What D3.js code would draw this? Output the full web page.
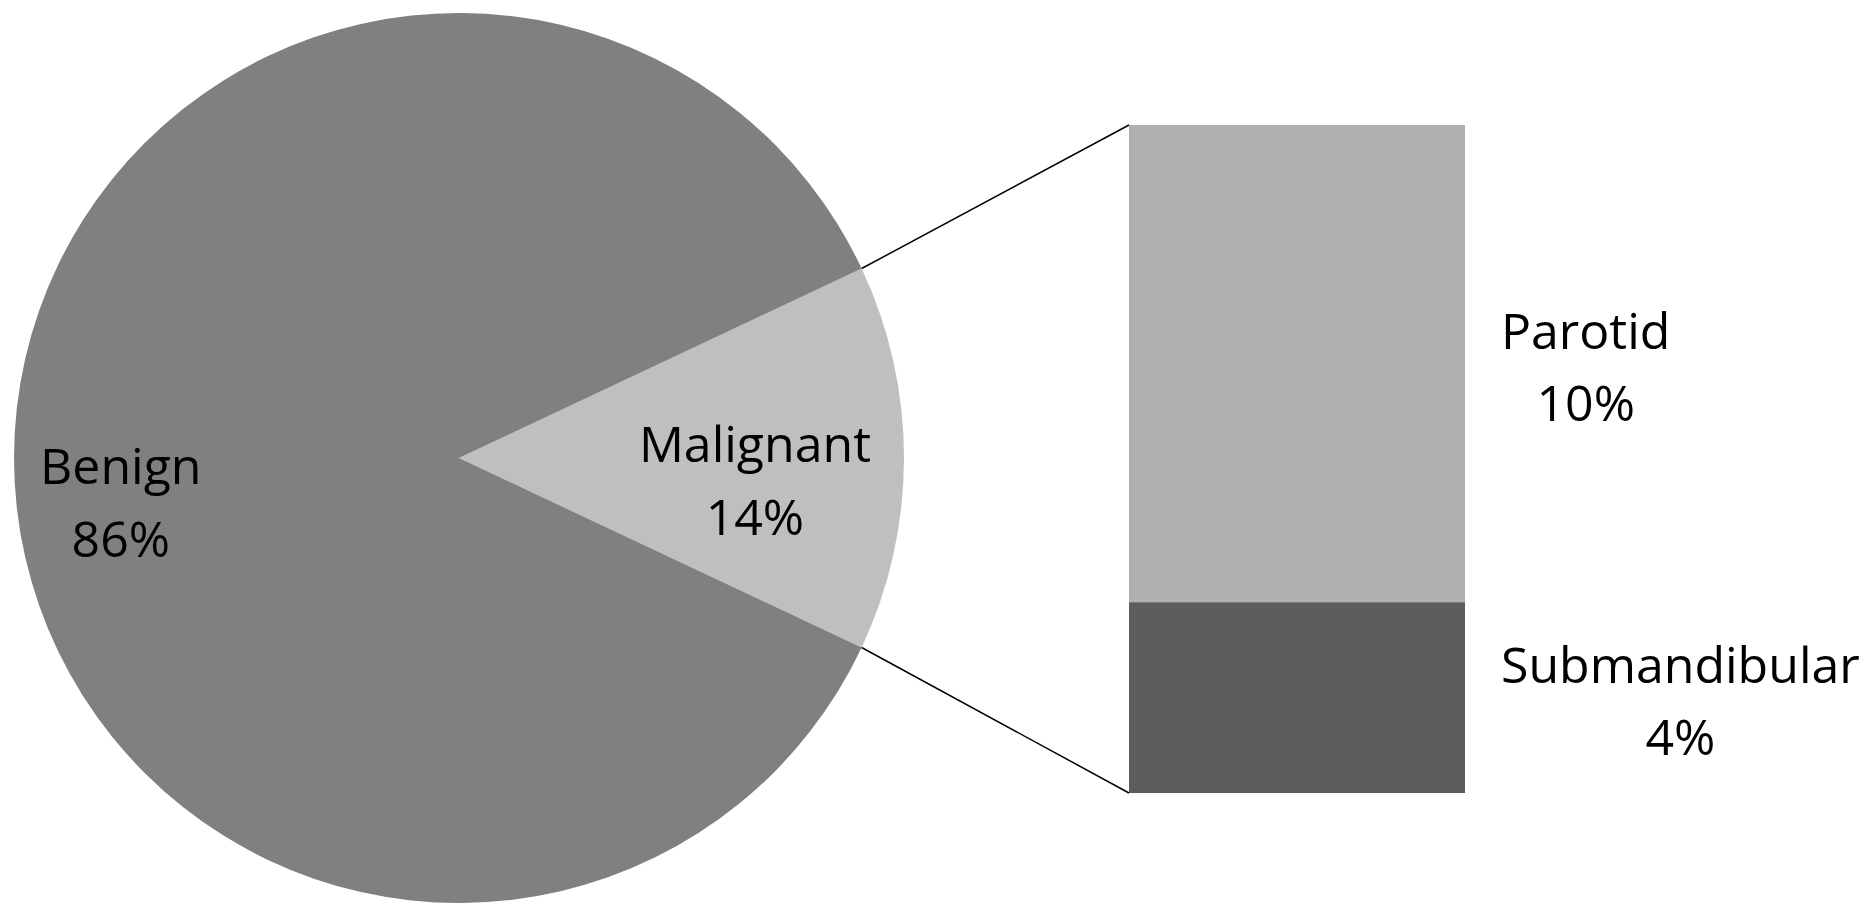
<!DOCTYPE html>
<html>
<head>
<meta charset="utf-8">
<script src="https://cdn.jsdelivr.net/npm/d3@7"></script>
<style>
  body { margin: 0; background: #fff; }
  text { font-family: "Open Sans", Lato, sans-serif; fill: #000; }
</style>
</head>
<body>
<div id="chart"></div>
<script>
// pie: overall share
var pieNames = ["Malignant", "Benign"];
var pieValues = [14, 86];
var pieColors = ["#bfbfbf", "#808080"];

// bar: breakdown of malignant
var barNames = ["Submandibular", "Parotid"];
var barValues = [4, 10];
var barColors = ["#5d5d5d", "#b0b0b0"];

var width = 1876,
    height = 905;

var svg = d3.select("#chart")
  .append("svg")
    .attr("width", width)
    .attr("height", height);

var cx = 459, cy = 458, radius = 445;

// malignant slice centred on the right side
var total = d3.sum(pieValues);
var offset = Math.PI / 2 - Math.PI * pieValues[0] / total;

var pie = d3.pie()
    .sort(null)
    .startAngle(offset)
    .endAngle(offset + 2 * Math.PI);

var arcs = pie(pieValues);

var arc = d3.arc()
    .innerRadius(0)
    .outerRadius(radius);

var pieG = svg.append("g")
    .attr("transform", "translate(" + cx + "," + cy + ")");

pieG.selectAll("path")
  .data(arcs)
  .enter().append("path")
    .attr("d", arc)
    .attr("fill", (d, i) => pieColors[i]);

// label radius (fraction of r) and first-line offset for each slice
var labelR = [0.665, 0.76];
var labelDy = [4, 26];

arcs.forEach(function(d, i) {
  var a = (d.startAngle + d.endAngle) / 2;
  var x = Math.sin(a) * radius * labelR[i];
  var y = -Math.cos(a) * radius * labelR[i];
  var t = pieG.append("text")
      .attr("text-anchor", "middle")
      .attr("font-size", 50);
  t.append("tspan")
      .attr("x", x).attr("y", y + labelDy[i])
      .text(pieNames[i]);
  t.append("tspan")
      .attr("x", x).attr("y", y + labelDy[i] + 73)
      .text(pieValues[i] + "%");
});

// stacked bar
var barX = 1129, barW = 336;
var y = d3.scaleLinear()
    .domain([0, d3.sum(barValues)])
    .range([793, 125]);

var stacked = [];
var acc = 0;
barValues.forEach(function(v, i) {
  stacked.push({ name: barNames[i], value: v, y0: acc, y1: acc + v, color: barColors[i] });
  acc += v;
});

svg.append("g")
  .selectAll("rect")
  .data(stacked)
  .enter().append("rect")
    .attr("x", barX)
    .attr("width", barW)
    .attr("y", d => y(d.y1))
    .attr("height", d => y(d.y0) - y(d.y1))
    .attr("fill", d => d.color);

// connector lines from the slice edges to the bar corners
var mal = arcs[0];
function edge(a) {
  return [cx + Math.sin(a) * radius, cy - Math.cos(a) * radius];
}
var pTop = edge(mal.startAngle),
    pBot = edge(mal.endAngle);

svg.append("line")
    .attr("x1", pTop[0]).attr("y1", pTop[1])
    .attr("x2", barX).attr("y2", y(d3.sum(barValues)))
    .attr("stroke", "#000").attr("stroke-width", 1.5);
svg.append("line")
    .attr("x1", pBot[0]).attr("y1", pBot[1])
    .attr("x2", barX).attr("y2", y(0))
    .attr("stroke", "#000").attr("stroke-width", 1.5);

// bar labels: block starts right of the bar, lines centred inside it
var labelX = 1501;
stacked.forEach(function(d) {
  var mid = (y(d.y0) + y(d.y1)) / 2;
  var t = svg.append("text")
      .attr("font-size", 50)
      .attr("text-anchor", "middle");
  var l1 = t.append("tspan")
      .attr("y", mid - 15)
      .text(d.name);
  var w = l1.node().getComputedTextLength();
  l1.attr("x", labelX + w / 2);
  t.append("tspan")
      .attr("x", labelX + w / 2)
      .attr("y", mid + 57)
      .text(d.value + "%");
});
</script>
</body>
</html>
